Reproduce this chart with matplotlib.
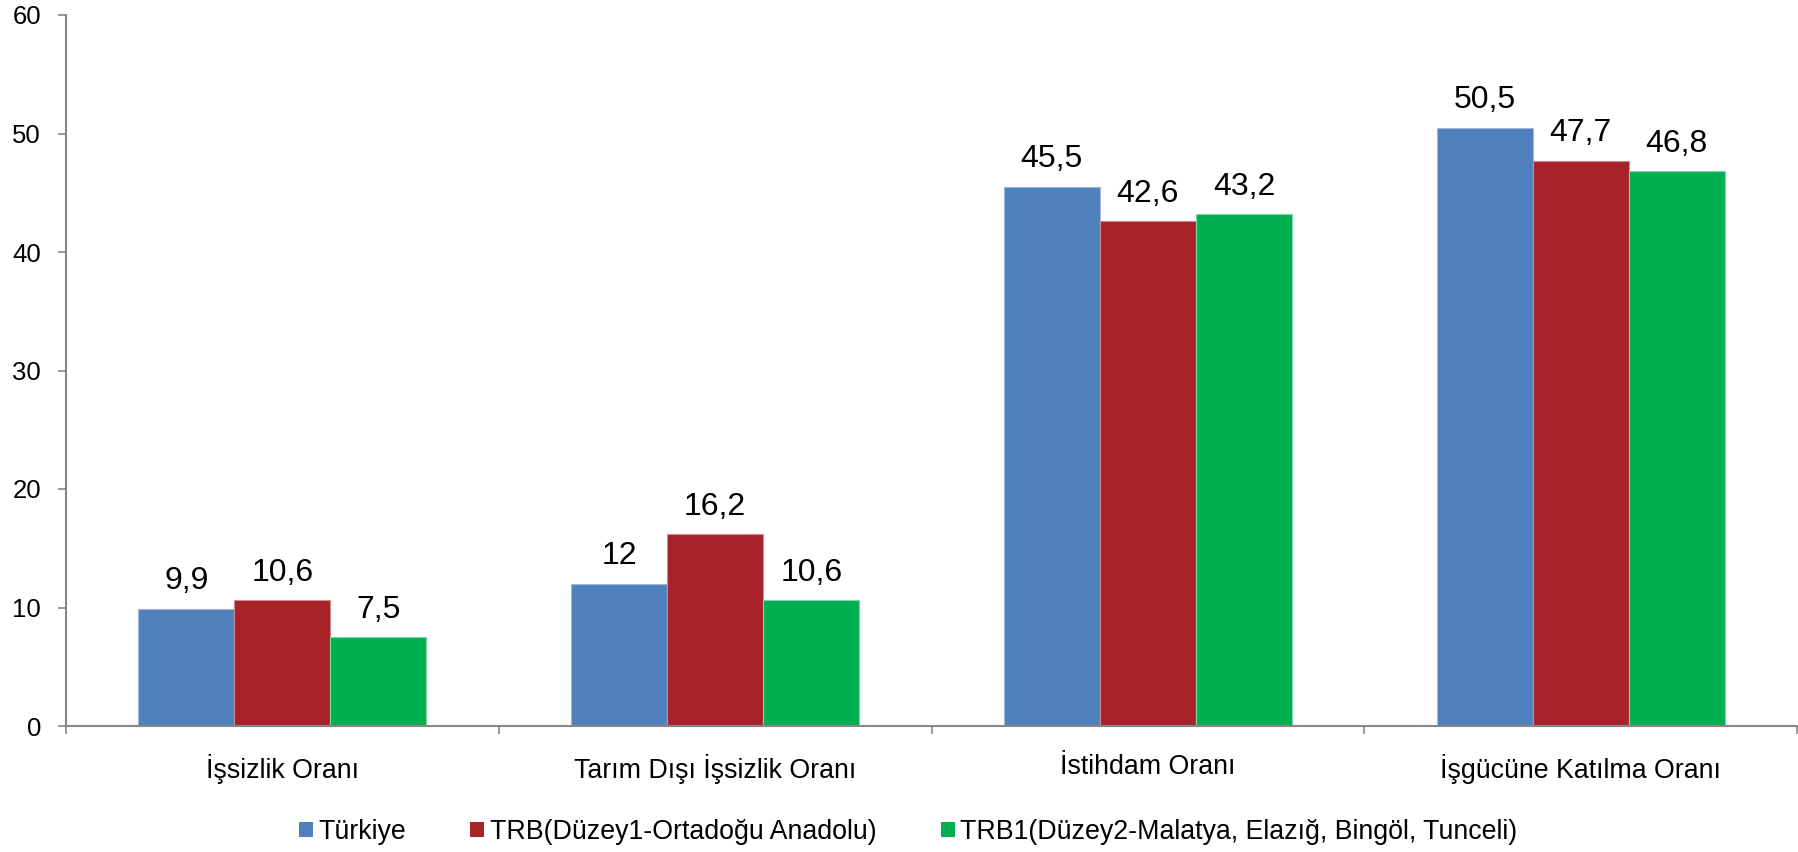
import matplotlib
matplotlib.use("Agg")
import matplotlib.pyplot as plt
import numpy as np
from matplotlib.patches import Patch

plt.rcParams['font.family'] = ['Liberation Sans', 'DejaVu Sans']

categories = ["İşsizlik Oranı", "Tarım Dışı İşsizlik Oranı", "İstihdam Oranı", "İşgücüne Katılma Oranı"]
series_names = ["Türkiye", "TRB(Düzey1-Ortadoğu Anadolu)", "TRB1(Düzey2-Malatya, Elazığ, Bingöl, Tunceli)"]
turkiye = [9.9, 12, 45.5, 50.5]
trb = [10.6, 16.2, 42.6, 47.7]
trb1 = [7.5, 10.6, 43.2, 46.8]
label_turkiye = ["9,9", "12", "45,5", "50,5"]
label_trb = ["10,6", "16,2", "42,6", "47,7"]
label_trb1 = ["7,5", "10,6", "43,2", "46,8"]
yticks = [0, 10, 20, 30, 40, 50, 60]

colors = ["#4F81BD", "#A8222A", "#00B050"]
edges = ["#9DB9DC", "#D08A8E", "#7FD7A7"]

fig = plt.figure(figsize=(17.98, 8.52), dpi=100)
ax = fig.add_axes([66/1798, 1-726/852, 1731/1798, (726-15)/852])

x = np.arange(len(categories))
w = 0.222
all_vals = [turkiye, trb, trb1]
all_labels = [label_turkiye, label_trb, label_trb1]
for i, (vals, labs) in enumerate(zip(all_vals, all_labels)):
    pos = x + (i - 1) * w
    ax.bar(pos, vals, width=w, color=colors[i], edgecolor=edges[i], linewidth=0.8, zorder=2)
    for p, v, t in zip(pos, vals, labs):
        ax.annotate(t, (p, v), xytext=(0, 9), textcoords="offset points",
                    ha="center", va="bottom", fontsize=23, color="black")

ax.set_xlim(-0.5, len(categories) - 0.5)
ax.set_ylim(0, 60)
ax.set_yticks(yticks)
ax.set_yticklabels([str(t) for t in yticks], fontsize=18.5)
ax.tick_params(axis='y', length=6, width=1.2, color="#868686", pad=12, direction='out')

ax.set_xticks(x)
ax.set_xticklabels(categories, fontsize=19.3)
ax.tick_params(axis='x', which='major', length=0, pad=20)
ax.set_xticks(np.arange(-0.5, len(categories)), minor=True)
ax.tick_params(axis='x', which='minor', length=6, width=1.2, color="#868686", direction='out')

for s in ["top", "right"]:
    ax.spines[s].set_visible(False)
for s in ["left", "bottom"]:
    ax.spines[s].set_color("#868686")
    ax.spines[s].set_linewidth(1.5)

handles = [Patch(facecolor=c, edgecolor='none') for c in colors]
fig.legend(handles, series_names, loc="center", bbox_to_anchor=(908/1798, 1-832/852),
           ncol=3, frameon=False, fontsize=19.3, handlelength=0.52, handleheight=0.52,
           handletextpad=0.2, columnspacing=2.4)

fig.savefig("out.png", dpi=100)
